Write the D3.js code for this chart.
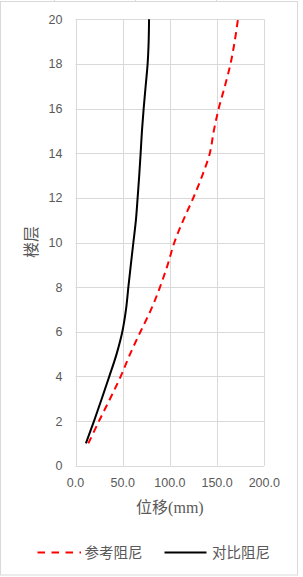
<!DOCTYPE html>
<html><head><meta charset="utf-8">
<script src="https://cdn.jsdelivr.net/npm/d3@7"></script>
<style>html,body{margin:0;padding:0;background:#fff;}svg{display:block;}</style>
</head><body>
<script>
const floors = d3.range(1, 21);
const refDamping = [13.6, 24.9, 36.6, 47.9, 57.8, 68.8, 80.1, 89.5, 97.6, 104.7, 114.2, 124.8, 134.3, 142.3, 146.5, 151.7, 158.2, 164.2, 168.6, 172.1];
const cmpDamping = [11.0, 19.6, 27.8, 35.8, 43.5, 49.6, 53.5, 56.0, 58.6, 61.3, 64.0, 65.8, 67.5, 69.0, 70.4, 72.2, 74.3, 76.4, 77.5, 77.9];
const xTicks = [0, 50, 100, 150, 200];
const yTicks = [0, 2, 4, 6, 8, 10, 12, 14, 16, 18, 20];
const seriesNames = ["参考阻尼", "对比阻尼"];
const xTitle = "位移(mm)";
const yTitle = "楼层";

const W = 303, H = 577;
const svg = d3.select("body").append("svg").attr("width", W).attr("height", H);

// chart area border
svg.append("rect").attr("x", 0.5).attr("y", 1.5).attr("width", 297).attr("height", 573.5)
  .attr("fill", "#fff").attr("stroke", "#d9d9d9");
[54.5, 135.5, 216.5].forEach(x => svg.append("line").attr("x1", x).attr("x2", x).attr("y1", 0).attr("y2", 1.5).attr("stroke", "#d9d9d9"));

const x = d3.scaleLinear().domain([0, 200]).range([75.5, 264.3]);
const y = d3.scaleLinear().domain([0, 20]).range([465.7, 19.3]);

const grid = svg.append("g");
grid.selectAll("line.v").data(xTicks).join("line")
  .attr("x1", d => Math.round(x(d)) + 0.5).attr("x2", d => Math.round(x(d)) + 0.5)
  .attr("y1", y(0)).attr("y2", y(20)).attr("stroke", "#d9d9d9").attr("stroke-width", 1);
grid.selectAll("line.h").data(yTicks).join("line")
  .attr("y1", d => Math.round(y(d)) + 0.5).attr("y2", d => Math.round(y(d)) + 0.5)
  .attr("x1", x(0)).attr("x2", x(200)).attr("stroke", "#d9d9d9").attr("stroke-width", 1);

const font = "'Liberation Sans', 'Noto Sans CJK SC', sans-serif";
svg.append("g").selectAll("text").data(yTicks).join("text")
  .attr("x", 62.5).attr("y", d => y(d)).attr("dy", "0.36em")
  .attr("text-anchor", "end").attr("font-family", font).attr("font-size", 12.5)
  .attr("fill", "#595959").text(d => d);
svg.append("g").selectAll("text").data(xTicks).join("text")
  .attr("x", d => x(d)).attr("y", 487)
  .attr("text-anchor", "middle").attr("font-family", font).attr("font-size", 12.5)
  .attr("fill", "#595959").text(d => d.toFixed(1));

svg.append("text").attr("x", x(100)).attr("y", 513).attr("text-anchor", "middle")
  .attr("font-family", "'Liberation Serif', 'Noto Sans CJK SC', serif").attr("font-size", 16)
  .attr("fill", "#595959").text(xTitle);
svg.append("text").attr("transform", `translate(37,${242}) rotate(-90)`).attr("text-anchor", "middle")
  .attr("font-family", "'Noto Sans CJK SC', sans-serif").attr("font-size", 16)
  .attr("fill", "#595959").text(yTitle);

const line = d3.line().x(d => x(d[0])).y(d => y(d[1])).curve(d3.curveCatmullRom);
svg.append("path").datum(refDamping.map((v, i) => [v, floors[i]]))
  .attr("d", line).attr("fill", "none").attr("stroke", "#ff0000").attr("stroke-width", 2)
  .attr("stroke-dasharray", "7,5");
svg.append("path").datum(cmpDamping.map((v, i) => [v, floors[i]]))
  .attr("d", line).attr("fill", "none").attr("stroke", "#000").attr("stroke-width", 2);

// legend
const ly = 552.5;
const leg = svg.append("g");
leg.append("line").attr("x1", 37.5).attr("x2", 81).attr("y1", ly).attr("y2", ly)
  .attr("stroke", "#ff0000").attr("stroke-width", 2).attr("stroke-dasharray", "7.5,6.5");
leg.append("text").attr("x", 84.5).attr("y", ly).attr("dy", "0.36em")
  .attr("font-family", "'Noto Sans CJK SC', sans-serif").attr("font-size", 14.5)
  .attr("fill", "#595959").text(seriesNames[0]);
leg.append("line").attr("x1", 164.5).attr("x2", 206.5).attr("y1", ly).attr("y2", ly)
  .attr("stroke", "#000").attr("stroke-width", 2);
leg.append("text").attr("x", 212).attr("y", ly).attr("dy", "0.36em")
  .attr("font-family", "'Noto Sans CJK SC', sans-serif").attr("font-size", 14.5)
  .attr("fill", "#595959").text(seriesNames[1]);
</script>
</body></html>
